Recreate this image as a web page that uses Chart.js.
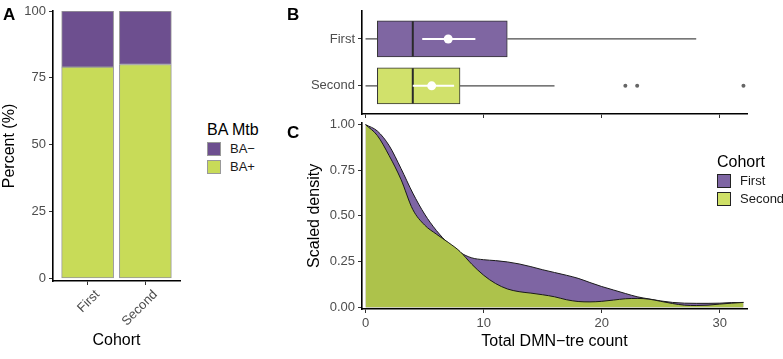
<!DOCTYPE html>
<html>
<head>
<meta charset="utf-8">
<script src="https://cdn.jsdelivr.net/npm/chart.js@4.4.0/dist/chart.umd.min.js"></script>
<style>
  body { margin: 0; background: #fff; width: 783px; height: 359px; overflow: hidden; position: relative; font-family: "Liberation Sans", Arial, sans-serif; }
  canvas { position: absolute; }
  .tag { position: absolute; font-weight: bold; font-size: 17px; color: #000; line-height: 1; }
  .leg { position: absolute; color: #1a1a1a; }
  .leg .t { font-size: 16px; line-height: 1; margin-bottom: 4px; color: #000; }
  .leg .row { font-size: 13px; height: 18px; line-height: 14px; white-space: nowrap; }
  .leg .sw { display: inline-block; width: 12px; height: 12px; vertical-align: top; margin-right: 9px; }
</style>
</head>
<body>
<canvas id="chartA" width="185" height="359" style="left:0;top:0"></canvas>
<canvas id="chartC" width="493" height="247" style="left:290px;top:112px"></canvas>
<canvas id="chartB" width="493" height="125" style="left:290px;top:0"></canvas>

<div class="tag" style="left:3px;top:6px">A</div>
<div class="tag" style="left:287px;top:6px">B</div>
<div class="tag" style="left:287px;top:124px">C</div>

<div class="leg" style="left:207px;top:122px">
  <div class="t">BA Mtb</div>
  <div class="row"><span class="sw" style="background:#6D4F8F;border:1px solid #999"></span>BA−</div>
  <div class="row"><span class="sw" style="background:#C8DB58;border:1px solid #999"></span>BA+</div>
</div>

<div class="leg" style="left:717px;top:154px">
  <div class="t">Cohort</div>
  <div class="row"><span class="sw" style="background:#7E65A3;border:1px solid #222"></span>First</div>
  <div class="row"><span class="sw" style="background:#CFE067;border:1px solid #222"></span>Second</div>
</div>

<script>
// ===== Panel A: percent BA+/BA- per cohort =====
const cohorts = ["First", "Second"];
const baPlus = [79, 80];
const baMinus = [21, 20];
const percentTicks = [0, 25, 50, 75, 100];

// ===== Panel B: box plot summary of DMN-tre count =====
const boxLow = [0, 0];       // whisker ends
const boxQ1 = [1, 1];
const boxMedian = [4, 4];
const boxQ3 = [12, 8];
const boxHigh = [28, 16];
const meanValue = [7, 5.6];
const meanLow = [4.8, 4.0];
const meanHigh = [9.3, 7.5];
const outliersSecond = [22, 23, 32];

// ===== Panel C: scaled density =====
const countX = [0, 1, 2, 3, 4, 5, 6, 7, 8, 9, 10, 11, 12, 13, 14, 15, 16,
                17, 18, 19, 20, 21, 22, 23, 24, 25, 26, 27, 28, 29, 30, 31, 32];
const densityFirst = [1.00, 0.965, 0.885, 0.76, 0.625, 0.51, 0.42, 0.35, 0.30, 0.27, 0.26,
                      0.255, 0.248, 0.237, 0.222, 0.205, 0.19, 0.175, 0.158, 0.135, 0.113,
                      0.094, 0.075, 0.057, 0.045, 0.034, 0.026, 0.022, 0.021, 0.021, 0.022,
                      0.025, 0.026];
const densitySecond = [1.00, 0.94, 0.83, 0.70, 0.535, 0.45, 0.40, 0.355, 0.305, 0.235, 0.175,
                       0.13, 0.10, 0.085, 0.077, 0.068, 0.057, 0.041, 0.031, 0.029, 0.032,
                       0.039, 0.046, 0.048, 0.044, 0.032, 0.020, 0.011, 0.009, 0.011, 0.017,
                       0.022, 0.026];
const countTicks = [0, 10, 20, 30];
const densityTicks = [0, 0.25, 0.5, 0.75, 1];

// mau
const PURPLE_A = "#6D4F8F", GREEN_A = "#C8DB58";
const PURPLE_B = "#7F66A2", GREEN_B = "#D1E16B";
const PURPLE_C = "#7E65A3", GREEN_C = "#ADC24B";
const TICK_TXT = "#4d4d4d";

const axisBase = {
  offset: false,
  grid: { drawOnChartArea: false, drawTicks: true, tickLength: 4, color: "#333", lineWidth: 1, offset: false },
  border: { display: true, color: "#000", width: 1.6 }
};
const tickFont = { family: "Liberation Sans", size: 13 };
const titleFont = { family: "Liberation Sans", size: 16 };
const noPlugins = { legend: { display: false }, tooltip: { enabled: false } };

// ----- A -----
new Chart(document.getElementById("chartA"), {
  type: "bar",
  data: {
    datasets: [
      {
        label: "BA+",
        data: cohorts.map((c, i) => ({ x: i + 1, y: baPlus[i] })),
        backgroundColor: GREEN_A, borderColor: "#999", borderWidth: 1,
        borderSkipped: false, barThickness: 52
      },
      {
        label: "BA−",
        data: cohorts.map((c, i) => ({ x: i + 1, y: baMinus[i] })),
        backgroundColor: PURPLE_A, borderColor: "#999", borderWidth: 1,
        borderSkipped: false, barThickness: 52
      }
    ]
  },
  options: {
    responsive: false, animation: false,
    layout: { padding: { top: 11, right: 5, left: 0, bottom: 0 } },
    plugins: noPlugins,
    scales: {
      x: {
        ...axisBase, type: "linear", min: 0.4, max: 2.6, stacked: true,
        afterBuildTicks: s => { s.ticks = cohorts.map((c, i) => ({ value: i + 1 })); },
        ticks: { callback: v => cohorts[Math.round(v) - 1], minRotation: 45, maxRotation: 45,
                 color: TICK_TXT, font: tickFont, padding: 2, labelOffset: 10 },
        title: { display: true, text: "Cohort", color: "#000", font: titleFont, padding: { top: 0, bottom: 9 } },
        afterFit: s => { s.height = 78; s.paddingLeft = 0; s.paddingRight = 0; }
      },
      y: {
        ...axisBase, stacked: true, min: -1, max: 100,
        afterBuildTicks: s => { s.ticks = percentTicks.map(v => ({ value: v })); },
        ticks: { color: TICK_TXT, font: tickFont, padding: 3 },
        title: { display: true, text: "Percent (%)", color: "#000", font: titleFont, padding: { top: 0, bottom: 0 } },
        afterFit: s => { s.width = 53; }
      }
    }
  }
});

// ----- B -----
const HALF_BOX = 0.375;
const boxSets = [];
boxSets.push({
  type: "bar", indexAxis: "y", order: 6,
  data: cohorts.map((c, i) => ({ y: i + 1, x: [boxQ1[i], boxQ3[i]] })),
  backgroundColor: [PURPLE_B, GREEN_B], borderColor: "#333", borderWidth: 1,
  borderSkipped: false, barThickness: 36
});
cohorts.forEach((c, i) => {
  const lineStyle = { type: "line", pointRadius: 0, fill: false };
  boxSets.push({ ...lineStyle, order: 5, borderColor: "#4a4a4a", borderWidth: 1.2,
    data: [{ x: boxLow[i], y: i + 1 }, { x: boxQ1[i], y: i + 1 }] });
  boxSets.push({ ...lineStyle, order: 5, borderColor: "#4a4a4a", borderWidth: 1.2,
    data: [{ x: boxQ3[i], y: i + 1 }, { x: boxHigh[i], y: i + 1 }] });
  boxSets.push({ ...lineStyle, order: 4, borderColor: "#2a2a2a", borderWidth: 2,
    data: [{ x: boxMedian[i], y: i + 1 - HALF_BOX }, { x: boxMedian[i], y: i + 1 + HALF_BOX }] });
  boxSets.push({ ...lineStyle, order: 3, borderColor: "#fff", borderWidth: 2,
    data: [{ x: meanLow[i], y: i + 1 }, { x: meanHigh[i], y: i + 1 }] });
});
boxSets.push({
  type: "scatter", order: 2,
  data: cohorts.map((c, i) => ({ x: meanValue[i], y: i + 1 })),
  pointRadius: 4.5, pointBackgroundColor: "#fff", pointBorderWidth: 0
});
boxSets.push({
  type: "scatter", order: 2,
  data: outliersSecond.map(v => ({ x: v, y: 2 })),
  pointRadius: 2, pointBackgroundColor: "#666", pointBorderWidth: 0
});

new Chart(document.getElementById("chartB"), {
  type: "bar",
  data: { datasets: boxSets },
  options: {
    responsive: false, animation: false,
    layout: { padding: { top: 9, right: 36, left: 0, bottom: 0 } },
    plugins: noPlugins,
    scales: {
      x: {
        ...axisBase, type: "linear", min: -0.3, max: 32.3,
        afterBuildTicks: s => { s.ticks = countTicks.map(v => ({ value: v })); },
        ticks: { callback: () => "", padding: 0 },
        afterFit: s => { s.height = 11; }
      },
      y: {
        ...axisBase, type: "linear", min: 0.4, max: 2.6, reverse: true,
        afterBuildTicks: s => { s.ticks = cohorts.map((c, i) => ({ value: i + 1 })); },
        ticks: { callback: v => cohorts[Math.round(v) - 1], color: TICK_TXT, font: tickFont, padding: 3 },
        afterFit: s => { s.width = 72; }
      }
    }
  }
});

// ----- C -----
new Chart(document.getElementById("chartC"), {
  type: "line",
  data: {
    datasets: [
      {
        label: "Second", order: 1,
        data: countX.map((x, i) => ({ x: x, y: densitySecond[i] })),
        backgroundColor: GREEN_C, borderColor: "#1a1a1a", borderWidth: 1,
        fill: "origin", pointRadius: 0, cubicInterpolationMode: "monotone"
      },
      {
        label: "First", order: 2,
        data: countX.map((x, i) => ({ x: x, y: densityFirst[i] })),
        backgroundColor: PURPLE_C, borderColor: "#1a1a1a", borderWidth: 1,
        fill: "origin", pointRadius: 0, cubicInterpolationMode: "monotone"
      }
    ]
  },
  options: {
    responsive: false, animation: false,
    layout: { padding: { top: 7, right: 36, left: 0, bottom: 0 } },
    plugins: noPlugins,
    scales: {
      x: {
        ...axisBase, type: "linear", min: -0.3, max: 32.3,
        afterBuildTicks: s => { s.ticks = countTicks.map(v => ({ value: v })); },
        ticks: { color: TICK_TXT, font: tickFont, padding: 3 },
        title: { display: true, text: "Total DMN−tre count", color: "#000", font: titleFont, padding: { top: 0, bottom: 8 } },
        afterFit: s => { s.height = 50; }
      },
      y: {
        ...axisBase, min: -0.01, max: 1.01,
        afterBuildTicks: s => { s.ticks = densityTicks.map(v => ({ value: v })); },
        ticks: { callback: v => v.toFixed(2), color: TICK_TXT, font: tickFont, padding: 3 },
        title: { display: true, text: "Scaled density", color: "#000", font: titleFont, padding: { top: 15, bottom: 0 } },
        afterFit: s => { s.width = 72; }
      }
    }
  }
});
</script>
</body>
</html>
